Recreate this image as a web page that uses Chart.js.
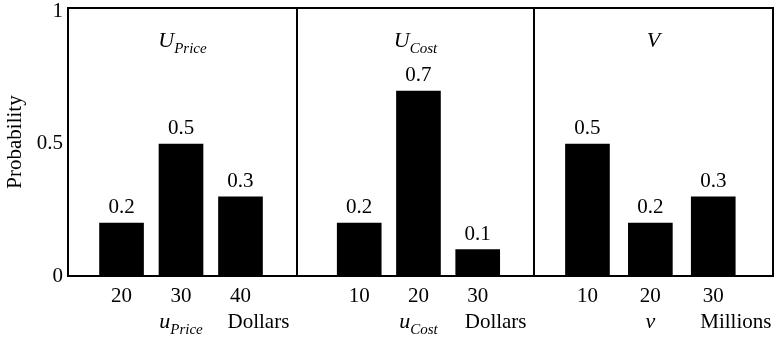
<!DOCTYPE html>
<html>
<head>
<meta charset="utf-8">
<script src="https://cdn.jsdelivr.net/npm/chart.js@4/dist/chart.umd.min.js"></script>
<style>
  html, body { margin: 0; padding: 0; background: #fff; }
  #wrap { position: relative; width: 775px; height: 342px; overflow: hidden; }
  #wrap canvas { position: absolute; top: 0; }
</style>
</head>
<body>
<div id="wrap">
  <canvas id="cPrice" width="300" height="342" style="left:0px"></canvas>
  <canvas id="cCost" width="243" height="342" style="left:294px"></canvas>
  <canvas id="cValue" width="244" height="342" style="left:531px"></canvas>
</div>
<script>
// Outcome values and their probabilities for each variable
const priceValues = [20, 30, 40];
const priceProbs  = [0.2, 0.5, 0.3];
const costValues  = [10, 20, 30];
const costProbs   = [0.2, 0.7, 0.1];
const valueValues = [10, 20, 30];
const valueProbs  = [0.5, 0.2, 0.3];
const yTicks      = [0, 0.5, 1];

const SERIF = '"Liberation Serif", "Times New Roman", serif';
const TEXT_SIZE = 21;

// Draws a symbol with an italic subscript, centred on cx
function drawSubscripted(ctx, main, sub, cx, baseline, mainSize, subSize, drop) {
  ctx.font = 'italic ' + mainSize + 'px ' + SERIF;
  const wMain = ctx.measureText(main).width;
  let wSub = 0;
  if (sub) {
    ctx.font = 'italic ' + subSize + 'px ' + SERIF;
    wSub = ctx.measureText(sub).width;
  }
  const x0 = cx - (wMain + wSub) / 2;
  ctx.textAlign = 'left';
  ctx.textBaseline = 'alphabetic';
  ctx.font = 'italic ' + mainSize + 'px ' + SERIF;
  ctx.fillText(main, x0, baseline);
  if (sub) {
    ctx.font = 'italic ' + subSize + 'px ' + SERIF;
    ctx.fillText(sub, x0 + wMain, baseline + drop);
  }
}

// Panel frame, bar value labels, panel title and axis caption
const panelDecor = {
  id: 'panelDecor',
  afterDatasetsDraw(chart, args, opts) {
    const { ctx, chartArea: a } = chart;
    const xs = chart.scales.x;
    ctx.save();
    ctx.fillStyle = '#000';
    // value labels above bars
    ctx.font = TEXT_SIZE + 'px ' + SERIF;
    ctx.textAlign = 'center';
    ctx.textBaseline = 'bottom';
    const meta = chart.getDatasetMeta(0);
    const data = chart.data.datasets[0].data;
    meta.data.forEach((bar, i) => {
      ctx.fillText(String(data[i].y), bar.x, bar.y - 5);
    });
    // frame
    ctx.strokeStyle = '#000';
    ctx.lineWidth = 2;
    ctx.strokeRect(a.left, a.top, a.right - a.left, a.bottom - a.top);
    // panel title
    const cx = (a.left + a.right) / 2;
    drawSubscripted(ctx, opts.title, opts.titleSub, cx, a.top + 39, 22, 15, 6);
    // axis caption: variable under the middle value, unit near the last value
    const vals = opts.values;
    const midX = xs.getPixelForValue(vals[1]);
    drawSubscripted(ctx, opts.varName, opts.varSub, midX, 328, 22, 15, 6);
    ctx.font = TEXT_SIZE + 'px ' + SERIF;
    ctx.textAlign = 'left';
    ctx.textBaseline = 'alphabetic';
    ctx.fillText(opts.unit, xs.getPixelForValue(vals[2]) - 13, 328);
    ctx.restore();
  }
};

function noEdgePadding(s) {
  s.paddingTop = 0; s.paddingBottom = 0; s.paddingLeft = 0; s.paddingRight = 0;
}

function makePanel(id, values, probs, xMin, xMax, showY, padding, decor) {
  const ctx = document.getElementById(id);
  return new Chart(ctx, {
    type: 'bar',
    data: {
      datasets: [{
        data: values.map((v, i) => ({ x: v, y: probs[i] })),
        backgroundColor: '#000',
        borderWidth: 0,
        barThickness: 44
      }]
    },
    options: {
      responsive: false,
      animation: false,
      devicePixelRatio: 1,
      layout: { padding: padding },
      plugins: {
        legend: { display: false },
        tooltip: { enabled: false },
        panelDecor: Object.assign({ values: values }, decor)
      },
      scales: {
        x: {
          type: 'linear',
          offset: false,
          min: xMin,
          max: xMax,
          grid: { display: false, drawTicks: false },
          border: { display: false },
          afterBuildTicks: s => { s.ticks = values.map(v => ({ value: v })); },
          afterFit: s => { s.height = 66; noEdgePadding(s); },
          ticks: {
            autoSkip: false,
            maxRotation: 0,
            padding: 8,
            color: '#000',
            font: { family: SERIF, size: TEXT_SIZE },
            callback: v => String(v)
          }
        },
        y: {
          display: showY,
          min: 0,
          max: 1.015,
          grid: { display: false, drawTicks: false },
          border: { display: false },
          afterBuildTicks: s => { s.ticks = yTicks.map(v => ({ value: v })); },
          afterFit: s => { s.width = showY ? 68 : 0; noEdgePadding(s); },
          ticks: {
            padding: 5,
            color: '#000',
            font: { family: SERIF, size: TEXT_SIZE },
            callback: v => String(v)
          },
          title: {
            display: true,
            text: 'Probability',
            color: '#000',
            padding: { top: 3, bottom: 0 },
            font: { family: SERIF, size: TEXT_SIZE }
          }
        }
      }
    },
    plugins: [panelDecor]
  });
}

makePanel('cPrice', priceValues, priceProbs, 11, 49.5, true,
  { left: 0, right: 3, top: 8, bottom: 0 },
  { title: 'U', titleSub: 'Price', varName: 'u', varSub: 'Price', unit: 'Dollars' });
makePanel('cCost', costValues, costProbs, -0.5, 39.5, false,
  { left: 3, right: 3, top: 8, bottom: 0 },
  { title: 'U', titleSub: 'Cost', varName: 'u', varSub: 'Cost', unit: 'Dollars' });
makePanel('cValue', valueValues, valueProbs, 1.5, 39.5, false,
  { left: 3, right: 2, top: 8, bottom: 0 },
  { title: 'V', titleSub: '', varName: 'v', varSub: '', unit: 'Millions' });
</script>
</body>
</html>
